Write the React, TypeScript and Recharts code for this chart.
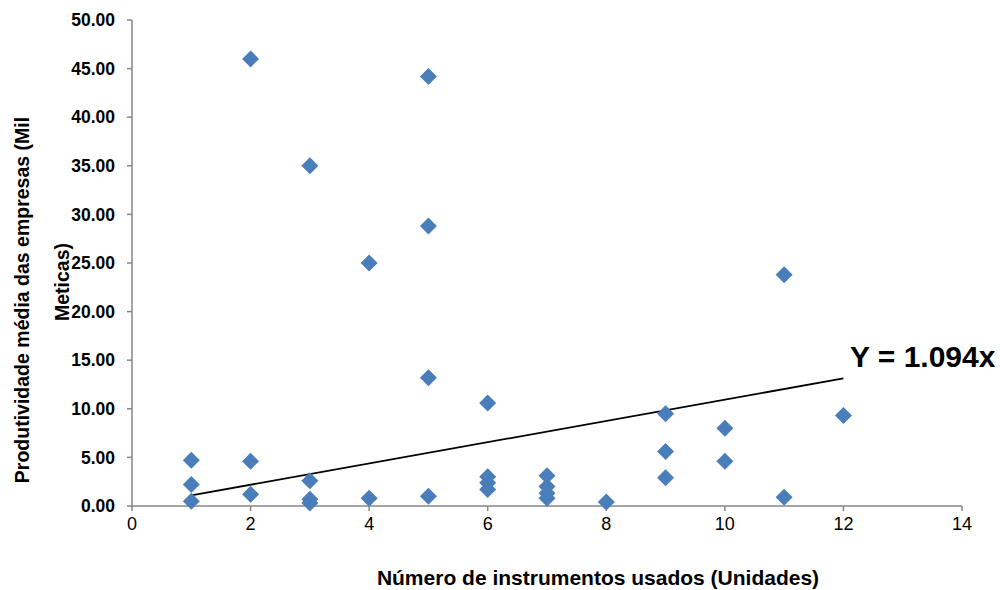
import React from 'react'
import {
  ScatterChart, Scatter, XAxis, YAxis, ReferenceLine,
} from 'recharts'

// número de instrumentos usados (x) e produtividade média (y)
const instrumentos = [
  1, 1, 1,
  2, 2, 2,
  3, 3, 3, 3,
  4, 4,
  5, 5, 5, 5,
  6, 6, 6, 6,
  7, 7, 7, 7,
  8,
  9, 9, 9,
  10, 10,
  11, 11,
  12,
]
const produtividade = [
  4.7, 2.2, 0.5,
  46.0, 4.6, 1.2,
  35.0, 2.6, 0.7, 0.3,
  25.0, 0.8,
  44.2, 28.8, 13.2, 1.0,
  10.6, 3.0, 2.4, 1.7,
  3.1, 2.0, 1.3, 0.8,
  0.4,
  9.5, 5.6, 2.9,
  8.0, 4.6,
  23.8, 0.9,
  9.3,
]

const xTicks = [0, 2, 4, 6, 8, 10, 12, 14]
const yTicks = [0, 5, 10, 15, 20, 25, 30, 35, 40, 45, 50]

// tendência Y = 1.094x, de x=1 a x=12
const slope = 1.094
const trendStart = 1
const trendEnd = 12

const points = instrumentos.map((x, i) => ({ x, y: produtividade[i] }))

const blue = '#4A7EBB'
const axisGrey = '#868686'
const font = "'Liberation Sans', Arial, sans-serif"

function Diamond(props: any) {
  const { cx, cy } = props
  if (cx == null || cy == null) return null
  return (
    <path
      d={`M${cx},${cy - 8.5}L${cx + 8.5},${cy}L${cx},${cy + 8.5}L${cx - 8.5},${cy}Z`}
      fill={blue}
    />
  )
}

function YTitle() {
  return (
    <g fontFamily={font} fontWeight="bold" fontSize={19.5} fill="#000">
      <text x={29} y={300} textAnchor="middle" transform="rotate(-90 29 300)">
        Produtividade média das empresas (Mil
      </text>
      <text x={69} y={282} textAnchor="middle" transform="rotate(-90 69 282)">
        Meticas)
      </text>
    </g>
  )
}

function XTitle() {
  return (
    <text x={598} y={585} textAnchor="middle" fontFamily={font} fontWeight="bold" fontSize={21} fill="#000">
      Número de instrumentos usados (Unidades)
    </text>
  )
}

export default function App() {
  return (
    <div style={{ position: 'absolute', left: 0, top: 0, width: 1000, height: 590, background: '#fff' }}>
      <ScatterChart width={1000} height={590} margin={{ top: 20, right: 38, bottom: 0, left: 0 }}>
        <XAxis
          type="number"
          dataKey="x"
          domain={[0, 14]}
          ticks={xTicks}
          interval={0}
          height={84}
          stroke={axisGrey}
          strokeWidth={1.5}
          tickSize={5}
          tickMargin={6}
          tick={{ fontSize: 18, fill: '#000', fontFamily: font }}
          label={{ content: () => <XTitle /> }}
        />
        <YAxis
          type="number"
          dataKey="y"
          domain={[0, 50]}
          ticks={yTicks}
          interval={0}
          width={132}
          stroke={axisGrey}
          strokeWidth={1.5}
          tickSize={5}
          tickMargin={12}
          tickFormatter={(v: number) => v.toFixed(2)}
          tick={{ fontSize: 17.5, fontWeight: 'bold', fill: '#000', fontFamily: font }}
          label={{ content: () => <YTitle /> }}
        />
        <ReferenceLine
          segment={[
            { x: trendStart, y: slope * trendStart },
            { x: trendEnd, y: slope * trendEnd },
          ]}
          stroke="#000"
          strokeWidth={1.8}
          ifOverflow="visible"
        />
        <Scatter data={points} shape={<Diamond />} isAnimationActive={false} />
      </ScatterChart>
      <div
        style={{
          position: 'absolute',
          left: 850,
          top: 340,
          fontFamily: font,
          fontWeight: 'bold',
          fontSize: 30,
          lineHeight: '34px',
          color: '#000',
          whiteSpace: 'nowrap',
        }}
      >
        Y = 1.094x
      </div>
    </div>
  )
}
